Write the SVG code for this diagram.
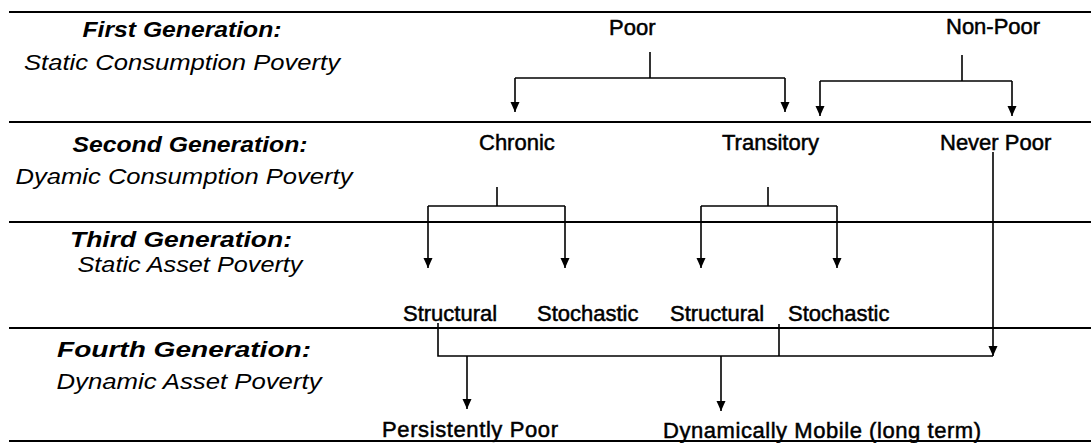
<svg xmlns="http://www.w3.org/2000/svg" width="1091" height="443" viewBox="0 0 1091 443">
  <style>
    .rule { stroke: #000; stroke-width: 2; fill: none; }
    .conn { stroke: #000; stroke-width: 1.6; fill: none; }
    .gen { font-family: "Liberation Sans", Arial, sans-serif; font-size: 22px; font-style: italic; font-weight: bold; fill: #000; text-anchor: middle; }
    .sub { font-family: "Liberation Sans", Arial, sans-serif; font-size: 22px; font-style: italic; fill: #000; text-anchor: middle; }
    .lbl { font-family: "Liberation Sans", Arial, sans-serif; font-size: 22px; fill: #000; stroke: #000; stroke-width: 0.5; }
  </style>
  <defs>
    <marker id="arr" markerUnits="userSpaceOnUse" markerWidth="10" markerHeight="10" refX="10" refY="4.5" orient="auto">
      <path d="M0,0 L10,4.5 L0,9 z" fill="#000"/>
    </marker>
  </defs>
  <rect width="1091" height="443" fill="#fff"/>

  <g id="rules">
    <line class="rule" x1="9" y1="12" x2="1091" y2="12"/>
    <line class="rule" x1="9" y1="122" x2="1091" y2="122"/>
    <line class="rule" x1="9" y1="222" x2="1091" y2="222"/>
    <line class="rule" x1="9" y1="328" x2="1091" y2="328"/>
    <line class="rule" x1="9" y1="441" x2="1091" y2="441"/>
  </g>

  <g id="generations">
    <text class="gen" x="182" y="37" textLength="199" lengthAdjust="spacingAndGlyphs">First Generation:</text>
    <text class="sub" x="182" y="70" textLength="316" lengthAdjust="spacingAndGlyphs">Static Consumption Poverty</text>
    <text class="gen" x="190" y="152" textLength="235" lengthAdjust="spacingAndGlyphs">Second Generation:</text>
    <text class="sub" x="184" y="184" textLength="337" lengthAdjust="spacingAndGlyphs">Dyamic Consumption Poverty</text>
    <text class="gen" x="181" y="247" textLength="222" lengthAdjust="spacingAndGlyphs">Third Generation:</text>
    <text class="sub" x="190" y="272" textLength="225" lengthAdjust="spacingAndGlyphs">Static Asset Poverty</text>
    <text class="gen" x="184" y="357" textLength="254" lengthAdjust="spacingAndGlyphs">Fourth Generation:</text>
    <text class="sub" x="189" y="389" textLength="265" lengthAdjust="spacingAndGlyphs">Dynamic Asset Poverty</text>
  </g>

  <g id="node-poor"><text class="lbl" x="609" y="35">Poor</text></g>
  <g id="node-nonpoor"><text class="lbl" x="946" y="34">Non-Poor</text></g>
  <g id="node-chronic"><text class="lbl" x="479" y="150">Chronic</text></g>
  <g id="node-transitory"><text class="lbl" x="722" y="150">Transitory</text></g>
  <g id="node-neverpoor"><text class="lbl" x="940" y="150">Never Poor</text></g>
  <g id="node-structural-1"><text class="lbl" x="403" y="321">Structural</text></g>
  <g id="node-stochastic-1"><text class="lbl" x="537" y="321">Stochastic</text></g>
  <g id="node-structural-2"><text class="lbl" x="670" y="321">Structural</text></g>
  <g id="node-stochastic-2"><text class="lbl" x="788" y="321">Stochastic</text></g>
  <g id="node-persistently-poor"><text class="lbl" x="382" y="437" textLength="176" lengthAdjust="spacing">Persistently Poor</text></g>
  <g id="node-dynamically-mobile"><text class="lbl" x="663" y="438" textLength="318" lengthAdjust="spacing">Dynamically Mobile (long term)</text></g>

  <g id="connectors">
    <!-- Poor -->
    <polyline class="conn" points="650,52 650,78"/>
    <polyline class="conn" points="515,78 785,78"/>
    <line class="conn" x1="515" y1="78" x2="515" y2="112" marker-end="url(#arr)"/>
    <line class="conn" x1="785" y1="78" x2="785" y2="112" marker-end="url(#arr)"/>
    <!-- Non-Poor -->
    <polyline class="conn" points="962,55 962,81"/>
    <polyline class="conn" points="820,81 1012,81"/>
    <line class="conn" x1="820" y1="81" x2="820" y2="116" marker-end="url(#arr)"/>
    <line class="conn" x1="1012" y1="81" x2="1012" y2="116" marker-end="url(#arr)"/>
    <!-- Chronic -->
    <polyline class="conn" points="497,187 497,206"/>
    <polyline class="conn" points="428,206 565,206"/>
    <line class="conn" x1="428" y1="206" x2="428" y2="268" marker-end="url(#arr)"/>
    <line class="conn" x1="565" y1="206" x2="565" y2="268" marker-end="url(#arr)"/>
    <!-- Transitory -->
    <polyline class="conn" points="768,187 768,206"/>
    <polyline class="conn" points="701,206 837,206"/>
    <line class="conn" x1="701" y1="206" x2="701" y2="268" marker-end="url(#arr)"/>
    <line class="conn" x1="837" y1="206" x2="837" y2="268" marker-end="url(#arr)"/>
    <!-- Never Poor down to fourth generation bar -->
    <line class="conn" x1="993" y1="152" x2="993" y2="356" marker-end="url(#arr)"/>
    <!-- Fourth generation bar -->
    <polyline class="conn" points="438,323 438,356 993,356"/>
    <polyline class="conn" points="779,324 779,356"/>
    <line class="conn" x1="467" y1="356" x2="467" y2="409" marker-end="url(#arr)"/>
    <line class="conn" x1="721" y1="356" x2="721" y2="411" marker-end="url(#arr)"/>
  </g>
</svg>
